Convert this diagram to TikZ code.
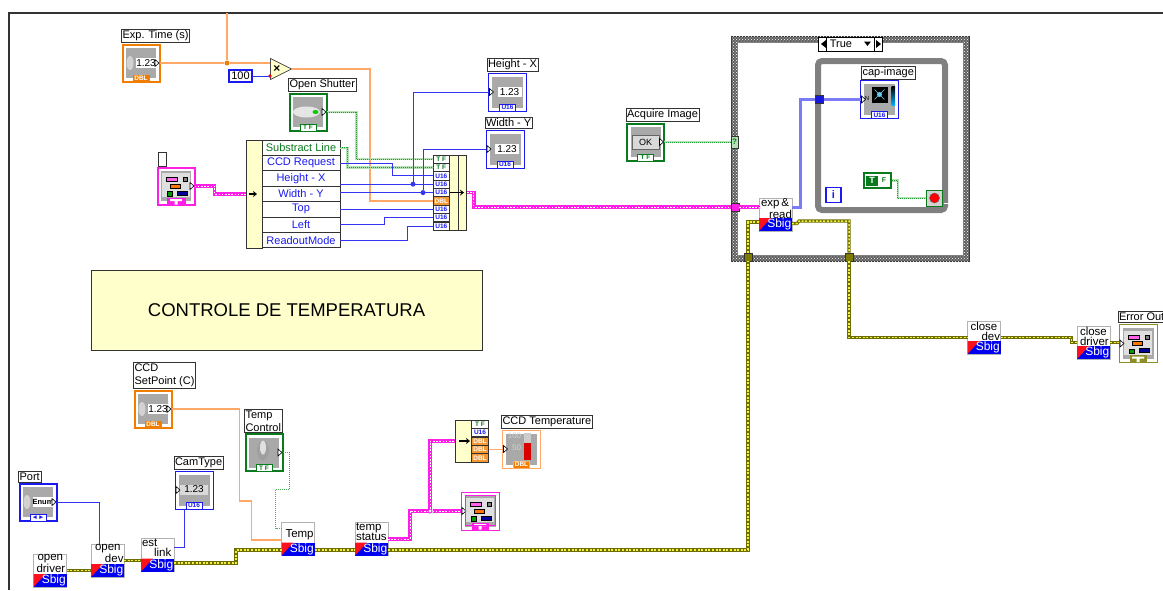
\documentclass[tikz,border=0pt]{standalone}
\usepackage{fontspec}
\setmainfont{Liberation Sans}
\usetikzlibrary{arrows.meta,positioning,patterns,shapes.geometric}
\definecolor{dblorange}{HTML}{F07D00}
\definecolor{wireorange}{HTML}{FFA868}
\definecolor{intblue}{HTML}{1A1AF0}
\definecolor{wireblue}{HTML}{3434F4}
\definecolor{boolgreen}{HTML}{0A7A1E}
\definecolor{palegreen}{HTML}{B4E2B4}
\definecolor{dotgreen}{HTML}{1E9A32}
\definecolor{clusterpink}{HTML}{FF1EE6}
\definecolor{errolive}{HTML}{8E8E28}
\definecolor{tunnelolive}{HTML}{7F7A00}
\definecolor{errtrack}{HTML}{6E6E00}
\definecolor{erryellow}{HTML}{F2F23C}
\definecolor{sbigblue}{HTML}{0000F0}
\definecolor{sbigred}{HTML}{FF0F1E}
\definecolor{paleyellow}{HTML}{FFFFCC}
\definecolor{facegray}{HTML}{A9A9A9}
\definecolor{loopgray}{HTML}{808080}
\definecolor{edgedark}{HTML}{333333}

\newcommand{\ctlbox}[6][]{%
  \node[#5=#4] (#2) at (#3) {};
  \fill[facegray] ([xshift=3.5,yshift=-3.5]#2.north west) rectangle ([xshift=-3.5,yshift=3.5]#2.south east);
  \node[typetag=#4,#1] (#2tag) at ([yshift=-15.5]#2.center) {#6};
}
\newcommand{\vifunc}[3]{%
  \node[vibox] (#1) at (#2) {};
  \fill[sbigblue] ([yshift=-3.5]#1.west) rectangle (#1.south east);
  \fill[sbigred] ([yshift=-3.5]#1.west) -- ([yshift=-3.5,xshift=12]#1.west) -- (#1.south west) -- cycle;
  \node[sbigtext] (#1sb) at (#1.south east) {Sbig};
  \node[vilabel] (#1lb) at (#1.north) {#3};
}

\tikzset{
  pinright/.pic={\draw[fill=white, draw=black, line width=0.6] (14,-3.5) -- (18,0) -- (14,3.5) -- cycle;},
  pinleft/.pic={\draw[fill=white, draw=black, line width=0.6] (-18,-3.5) -- (-14,0) -- (-18,3.5) -- cycle;},
  numface/.pic={
    \fill[gray!35] (-11,0) ellipse (3.5 and 7);
    \node[valuebox, minimum width=18] (val) at (5,0) {1.23};
  },
  enumface/.pic={
    \fill[gray!35] (-11,0) ellipse (3.5 and 7);
    \node[valuebox, minimum width=18, font=\fontsize{7.5}{8}\selectfont\bfseries] (val) at (5,0) {Enum};
  },
  readface/.pic={
    \node[valuebox, minimum width=24] (val) at (2,0) {1.23};
  },
  wideface/.pic={
    \node[valuebox, minimum width=28, fill=gray!30] (val) at (0,-0.5) {1.23};
  },
  clusterface/.pic={
    \fill[gray!25] (-14,-13) rectangle (14,11);
    \draw[fill=clusterpink!70, draw=black, line width=0.5] (-10,-8.5) rectangle (1,-4.5);
    \draw[fill=orange!90!red, draw=black, line width=0.5] (-6,-1.8) rectangle (4,1.8);
    \draw[fill=gray, draw=black, line width=0.7] (7,-8.5) rectangle (11,-4.5);
    \draw[fill=green!60!black, draw=black, line width=0.5] (-9,5.5) rectangle (-4,10);
    \draw[fill=blue!60!black, draw=black, line width=0.5] (1,5) rectangle (11,9);
    \fill[white] (-6,13) rectangle (6,15) (-1.5,15) rectangle (1.5,18.5);
  },
  ledface/.pic={
    \fill[gray!20] (-1.5,0) ellipse (13.5 and 5.5);
    \fill[green!80!black] (7.5,0) ellipse (3 and 2);
  },
  okface/.pic={
    \draw[fill=gray!30, draw=gray!80!black, line width=0.8] (-13.5,-7) rectangle (13.5,7);
    \node[inner sep=0, font=\fontsize{9}{10}\selectfont] (oktext) at (0,0) {OK};
  },
  toggleface/.pic={
    \fill[gray!75] (-1,-2) ellipse (6 and 10);
    \fill[gray!25] (-1,-5) ellipse (3 and 7);
  },
  thermoface/.pic={
    \fill[gray!40] (2.5,-16) rectangle (9.5,-6);
    \fill[red!85!black] (2.5,-6) rectangle (9.5,11);
    \node[inner sep=0, text=gray!35, font=\fontsize{8}{9}\selectfont] (hundred) at (-7,-13) {100};
    \node[inner sep=0, text=gray!35, font=\fontsize{8}{9}\selectfont] (fifty) at (-5,-1) {50};
  },
  captureface/.pic={
    \fill[black] (-8,-13) rectangle (8,3.5);
    \fill[cyan!60] (0,-5) circle (2.5);
    \draw[cyan!60, line width=0.6] (-5,-10) -- (5,0) (-5,0) -- (5,-10);
    \shade[top color=black, bottom color=cyan!70!blue] (12,-13) rectangle (15.5,6);
    \node[inner sep=0, font=\fontsize{6}{6}\selectfont] (capn) at (-12.5,-1) {N};
  },
}

\begin{document}
\begin{tikzpicture}[
    x=1pt, y=-1pt,
    ctlterm/.style={draw=#1, line width=2, fill=white, minimum size=37, inner sep=0, outer sep=0},
    indterm/.style={draw=#1, line width=1, fill=white, minimum size=38, inner sep=0, outer sep=0},
    typetag/.style={draw=#1, line width=0.5, fill=white, text=#1, minimum width=16, minimum height=7, inner sep=0, font=\fontsize{6.5}{7}\selectfont\bfseries},
    tagbox/.style={draw=edgedark, line width=0.7, fill=white, inner xsep=1.2, inner ysep=1.5, align=left, xshift=-1.5, font=\fontsize{11}{13}\selectfont},
    valuebox/.style={fill=white, minimum height=10, inner sep=0, font=\fontsize{10}{11}\selectfont},
    rowcell/.style={draw=edgedark, line width=0.8, fill=white, minimum width=78, minimum height=15.4, inner sep=0, font=\fontsize{11}{12}\selectfont},
    binrow/.style={draw=edgedark, line width=0.6, fill=white, text=#1, minimum width=16.5, minimum height=8.35, inner sep=0, font=\fontsize{6.5}{7}\selectfont\bfseries},
    strip/.style={draw=edgedark, line width=0.8, fill=paleyellow, inner sep=0},
    vibox/.style={draw=gray!60, line width=0.6, fill=white, minimum width=33, minimum height=33, inner sep=0, outer sep=0},
    vilabel/.style={anchor=north, yshift=-0.5, text width=31, align=left, inner sep=0, font=\fontsize{11.5}{10}\selectfont},
    sbigtext/.style={anchor=south east, xshift=-0.5, yshift=0.5, inner sep=0, text=white, font=\fontsize{12}{12}\selectfont},
    tunnel/.style={draw=edgedark, line width=0.7, fill=#1, minimum size=8, inner sep=0},
    dot/.style={circle, fill=#1, minimum size=5, inner sep=0},
    wblue/.style={draw=wireblue, line width=1},
    worange/.style={draw=wireorange, line width=1.2},
    wgreen/.style={draw=palegreen, line width=2.2, postaction={draw=dotgreen, line width=0.6, dash pattern=on 1 off 1}},
    wthin/.style={draw=dotgreen!80, line width=1, dash pattern=on 1 off 1},
    wpink/.style={draw=clusterpink, line width=3.4, postaction={draw=white, line width=1, dash pattern=on 1.6 off 1.6}},
    werror/.style={draw=errtrack, line width=3.2, postaction={draw=erryellow, line width=1.5, dash pattern=on 2 off 1.6}},
    wbus/.style={draw=wireblue!65, line width=3},
    busarrow/.style={-{Stealth[length=4pt,width=6pt]}, draw=black, line width=1.6},
]
\useasboundingbox (0,0) rectangle (1163,590);

\draw[edgedark, line width=2] (9,590) -- (9,13) -- (1163,13);
\coordinate (topedge) at (227,13);

\ctlbox[fill=dblorange,text=white]{exptime}{141,63}{dblorange}{ctlterm}{DBL}
\pic at (exptime.center) {numface};
\pic at (exptime.center) {pinright};
\node[tagbox, above right=1.5pt and 0pt of exptime.north west] (exptimelb) {Exp. Time (s)};

\node[draw=intblue, line width=2, fill=white, inner xsep=2, inner ysep=2, font=\fontsize{11}{12}\selectfont] (hundredconst) at (240.5,76) {100};
\node[draw=black!70, line width=0.7, fill=paleyellow, isosceles triangle, isosceles triangle apex angle=90, isosceles triangle stretches, minimum width=21, minimum height=21, inner sep=0] (mult) at (277,69) {};
\node[inner sep=0, font=\fontsize{12}{12}\selectfont\bfseries] (multsign) at (277,69) {×};
\fill[red] (270,76) circle (1.8);

\ctlbox{openshutter}{308,112}{boolgreen}{ctlterm}{T F}
\pic at (openshutter.center) {ledface};
\pic at (openshutter.center) {pinright};
\node[tagbox, above right=1.5pt and 0pt of openshutter.north west] (openshutterlb) {Open Shutter};

\ctlbox[fill=clusterpink,minimum width=18]{errin}{176,186}{clusterpink}{ctlterm}{}
\pic at (errin.center) {clusterface};
\pic at (errin.center) {pinright};
\node[draw=edgedark, line width=0.7, fill=white, minimum width=8, minimum height=14, inner sep=0, above right=1pt and 0pt of errin.north west] (errinlb) {};

\node[strip, minimum width=16, minimum height=108] (namestrip) at (254,194) {};
\node[rowcell, text=boolgreen] (rowsub) at (301,147.7) {Substract Line};
\node[rowcell, text=intblue] (rowccd) at (301,163.1) {CCD Request};
\node[rowcell, text=intblue] (rowh) at (301,178.5) {Height - X};
\node[rowcell, text=intblue] (roww) at (301,193.9) {Width - Y};
\node[rowcell, text=intblue] (rowtop) at (301,209.3) {Top};
\node[rowcell, text=intblue] (rowleft) at (301,224.7) {Left};
\node[rowcell, text=intblue] (rowread) at (301,240.1) {ReadoutMode};
\draw[busarrow] (249,194) -- (257,194);

\node[binrow=boolgreen] (bin1) at (441.3,159.2) {T F};
\node[binrow=boolgreen] (bin2) at (441.3,167.5) {T F};
\node[binrow=intblue] (bin3) at (441.3,175.9) {U16};
\node[binrow=intblue] (bin4) at (441.3,184.2) {U16};
\node[binrow=intblue] (bin5) at (441.3,192.6) {U16};
\node[binrow=dblorange, fill=dblorange!80, text=white] (bin6) at (441.3,200.9) {DBL};
\node[binrow=intblue] (bin7) at (441.3,209.3) {U16};
\node[binrow=intblue] (bin8) at (441.3,217.6) {U16};
\node[binrow=intblue] (bin9) at (441.3,226) {U16};
\node[strip, minimum width=8.5, minimum height=75] (binstrip) at (453.8,192.6) {};
\node[strip, minimum width=8.5, minimum height=75] (binout) at (462.3,192.6) {};
\draw[busarrow] (450,192.6) -- (464,192.6);

\ctlbox{heightx}{507.5,92}{intblue}{indterm}{U16}
\pic at (heightx.center) {readface};
\pic at (heightx.center) {pinleft};
\node[tagbox, above right=1.5pt and -0.5pt of heightx.north west] (heightxlb) {Height - X};

\ctlbox{widthy}{505,149}{intblue}{indterm}{U16}
\pic at (widthy.center) {readface};
\pic at (widthy.center) {pinleft};
\node[tagbox, above right=1.5pt and 0pt of widthy.north west] (widthylb) {Width - Y};

\node[draw=edgedark, line width=0.8, fill=paleyellow, minimum width=391, minimum height=80, inner sep=0, text depth=0pt, font=\fontsize{18.5}{22}\selectfont] (tempbanner) at (286.5,310) {CONTROLE DE TEMPERATURA};

\ctlbox{acquire}{645.5,142}{boolgreen}{ctlterm}{T F}
\pic at (acquire.center) {okface};
\pic at (acquire.center) {pinright};
\node[tagbox, above right=1.5pt and 0pt of acquire.north west] (acquirelb) {Acquire Image};

\node[draw=edgedark, line width=0.9, fill=gray!75!black, minimum width=238, minimum height=225, inner sep=0] (casewall) at (850,148.5) {};
\node[pattern=crosshatch dots, pattern color=white, minimum width=238, minimum height=225, inner sep=0] (casecheck) at (850,148.5) {};
\node[draw=gray, line width=0.5, fill=white, minimum width=226, minimum height=213, inner sep=0] (caseinner) at (850,148.5) {};
\node[draw=black, line width=0.9, fill=white, minimum width=12, minimum height=14, inner sep=0] (selleft) at (824,44) {};
\node[draw=black, line width=0.9, fill=white, minimum width=48, minimum height=14, inner sep=0, font=\fontsize{11}{12}\selectfont, text width=44, align=left] (selmid) at (850,44) {\,True};
\node[draw=black, line width=0.9, fill=white, minimum width=8, minimum height=14, inner sep=0] (selright) at (878,44) {};
\fill[black] (821,44) -- (826,40) -- (826,48) -- cycle;
\fill[black] (881,44) -- (876,40) -- (876,48) -- cycle;
\fill[black] (864,41.5) -- (871,41.5) -- (867.5,46) -- cycle;

\node[draw=loopgray, line width=6, rounded corners=4, minimum width=127, minimum height=149, inner sep=0, outer sep=0] (whileloop) at (881.5,135.5) {};
\draw[white, line width=0.8] (943.5,203) -- (950,203);
\node[tunnel=intblue!90!black] (looptunnel) at (819.5,99.5) {};

\ctlbox{capimage}{879.5,99.5}{intblue}{indterm}{U16}
\pic at (capimage.center) {captureface};
\pic at (capimage.center) {pinleft};
\node[tagbox, above right=1pt and 2pt of capimage.north west] (capimagelb) {cap-image};

\node[draw=intblue, line width=1.6, fill=white, minimum size=15, inner sep=0, font=\fontsize{11}{12}\selectfont\bfseries, text=intblue] (iterbox) at (833.5,195) {i};
\node[draw=boolgreen, line width=1.2, fill=white, minimum width=27, minimum height=15, inner sep=0] (truebool) at (877.5,180.5) {};
\node[fill=boolgreen, text=white, minimum width=12, minimum height=10, inner sep=0, font=\fontsize{9}{10}\selectfont\bfseries] (truemark) at (872,180.5) {T};
\node[inner sep=0, text=boolgreen, font=\fontsize{7}{8}\selectfont\bfseries] (truetf) at (884,180.5) {F};
\node[draw=boolgreen, line width=0.9, fill=gray!35, minimum size=16, inner sep=0] (stopbtn) at (934.5,198) {};
\node[circle, fill=red, draw=black!60, line width=0.5, minimum size=10, inner sep=0] (stopdot) at (934.5,198) {};

\node[tunnel=palegreen, minimum width=7, minimum height=12, text=boolgreen, font=\fontsize{8}{9}\selectfont\bfseries] (seltunnel) at (734.5,142) {?};
\node[tunnel=clusterpink] (pinktunnel) at (735,207) {};
\node[tunnel=tunnelolive] (lefttunnel) at (748,257) {};
\node[tunnel=tunnelolive] (righttunnel) at (849,257) {};

\vifunc{expread}{775.5,214.5}{\mbox{\hspace*{1pt}exp\,\&}\\\hspace*{9pt}read}
\fill[red] (759,207) circle (1.3);

\vifunc{closedev}{984,337.5}{\hspace*{2pt}close\\\hspace*{13pt}dev}
\vifunc{closedriver}{1093.5,342.5}{\hspace*{2pt}close\\\hspace*{2pt}driver}

\ctlbox[fill=errolive]{errout}{1138,343.5}{errolive}{indterm}{}
\pic at (errout.center) {clusterface};
\pic at (errout.center) {pinleft};
\node[tagbox, above right=2pt and 0pt of errout.north west] (erroutlb) {Error Out};

\ctlbox[fill=dblorange,text=white]{ccdset}{153,409}{dblorange}{ctlterm}{DBL}
\pic at (ccdset.center) {numface};
\pic at (ccdset.center) {pinright};
\node[tagbox, above right=1.5pt and 0pt of ccdset.north west] (ccdsetlb) {CCD\\SetPoint (C)};

\ctlbox{tempctl}{264,452.5}{boolgreen}{ctlterm}{T F}
\pic at (tempctl.center) {toggleface};
\pic at (tempctl.center) {pinright};
\node[tagbox, above right=1pt and 0pt of tempctl.north west] (tempctllb) {Temp\\Control};

\ctlbox{camtype}{194,490}{intblue}{indterm}{U16}
\pic at (camtype.center) {wideface};
\pic at (camtype.center) {pinleft};
\node[tagbox, above right=1pt and 0pt of camtype.north west] (camtypelb) {CamType};

\ctlbox{port}{38,502}{intblue}{ctlterm}{◄►}
\pic at (port.center) {enumface};
\pic at (port.center) {pinright};
\node[tagbox, above right=1pt and 0pt of port.north west] (portlb) {Port};

\vifunc{opendriver}{50,570.5}{\hspace*{3pt}open\\\hspace*{2pt}driver}
\vifunc{opendev}{107.5,560.5}{\hspace*{3pt}open\\\hspace*{13pt}dev}
\vifunc{estlink}{157.5,555}{est\\\hspace*{12pt}link}
\vifunc{temp}{298,539}{\rule{0pt}{14pt}\hspace*{3pt}Temp}
\vifunc{tempstatus}{371.5,539}{temp\\status}

\node[strip, minimum width=17, minimum height=42] (unbstrip) at (463.5,441) {};
\node[binrow=boolgreen] (unb1) at (480,424.2) {T F};
\node[binrow=intblue] (unb2) at (480,432.6) {U16};
\node[binrow=dblorange, fill=dblorange!80, text=white] (unb3) at (480,441) {DBL};
\node[binrow=dblorange, fill=dblorange!80, text=white] (unb4) at (480,449.4) {DBL};
\node[binrow=dblorange, fill=dblorange!80, text=white] (unb5) at (480,457.8) {DBL};
\draw[busarrow] (459,441) -- (470,441);

\ctlbox[fill=clusterpink]{tempind}{480,511}{clusterpink}{indterm}{}
\pic at (tempind.center) {clusterface};
\pic at (tempind.center) {pinleft};
\node[draw=clusterpink, line width=1, minimum size=30, inner sep=0] (tempindin) at (480,510) {};

\ctlbox[fill=dblorange,text=white]{thermo}{521.5,449}{wireorange}{indterm}{DBL}
\pic at (thermo.center) {thermoface};
\pic at (thermo.center) {pinleft};
\node[tagbox, above right=1pt and 0pt of thermo.north west] (thermolb) {CCD Temperature};

\node[dot=dblorange] (jctexp) at (227,63) {};
\node[dot=wireblue] (jcth) at (413,184.2) {};
\node[dot=wireblue] (jctw) at (423,192.6) {};
\node[circle, draw=clusterpink, fill=white, line width=1, minimum size=4, inner sep=0] (jctp) at (430,511) {};
\coordinate (tempjog) at (236,550);
\coordinate (capjog) at (800,99.5);
\coordinate (rightjog) at (799,221);

\draw[worange] (exptime.east) -- (jctexp) -- (jctexp -| mult.west);
\draw[worange] (topedge) -- (jctexp);
\draw[wblue] (hundredconst.east) -- (hundredconst.east -| mult.west);
\draw[worange] (mult.apex) -- ++(78,0) |- (bin6.west);
\draw[wgreen] (openshutter.east) -- ++(30,0) |- (bin1.west);
\draw[wpink] (errin.east) -- ++(20,0) |- (namestrip.west);
\draw[wgreen] (rowsub.east) -- ++(7,0) |- (bin2.west);
\draw[wblue] (rowccd.east) -- ++(52,0) |- (bin3.west);
\draw[wblue] (bin4.west -| rowh.east) -- (bin4.west);
\draw[wblue] (bin5.west -| roww.east) -- (bin5.west);
\draw[wblue] (bin7.west -| rowtop.east) -- (bin7.west);
\draw[wblue] (rowleft.east) -- ++(44,0) |- (bin8.west);
\draw[wblue] (rowread.east) -- ++(67,0) |- (bin9.west);
\draw[wblue] (jcth) |- (heightx.west);
\draw[wblue] (jctw) |- (widthy.west);
\draw[wpink] (binout.east) -- ++(7,0) |- (pinktunnel.west);
\draw[wpink] (pinktunnel.east) -- (pinktunnel.east -| expread.west);
\draw[wgreen] (acquire.east) -- (seltunnel.west);
\draw[wbus] ([yshift=7.5]expread.east) -| (capjog) -- (looptunnel.west);
\draw[wbus] (looptunnel.east) -- (capimage.west);
\draw[wgreen] (truebool.east) -- ++(6,0) |- (stopbtn.west);

\draw[werror] (lefttunnel.north) |- ([yshift=-7.5]expread.west);
\draw[werror] ([yshift=-9]expread.east) -- ++(5,0) -- (rightjog) -| (righttunnel.north);
\draw[werror] (righttunnel.south) |- (closedev.west);
\draw[werror] (closedev.east) -- ++(71,0) |- (closedriver.west);
\draw[werror] (closedriver.east) -- (closedriver.east -| errout.west);
\draw[werror] (opendriver.east) -- (opendriver.east -| opendev.west);
\draw[werror] (opendev.east) -- (opendev.east -| estlink.west);
\draw[werror] ([yshift=-8]estlink.east) -| (tempjog) -- (tempjog -| temp.west);
\draw[werror] (tempjog -| temp.east) -- (tempjog -| tempstatus.west);
\draw[werror] (tempjog -| tempstatus.east) -| (lefttunnel.south);

\draw[wblue] (port.east) -| ([xshift=8]opendev.north west);
\draw[wblue] ([xshift=-10]camtype.south) |- ([yshift=8]estlink.east);
\draw[worange] (ccdset.east) -- ++(68,0) -- ++(0,92) -- ++(12,0) |- ([yshift=-1]temp.west);
\draw[wthin] (tempctl.east) -- ++(7,0) -- ++(0,36.5) -- ++(-14,0) |- ([yshift=11]temp.west);

\draw[wpink] (tempstatus.east) -- ++(22,0) |- (jctp) -- (tempind.west);
\draw[wpink] (jctp) |- (unbstrip.west);
\draw[worange] (unb4.east) -- (unb4.east -| thermo.west);

\end{tikzpicture}
\end{document}
